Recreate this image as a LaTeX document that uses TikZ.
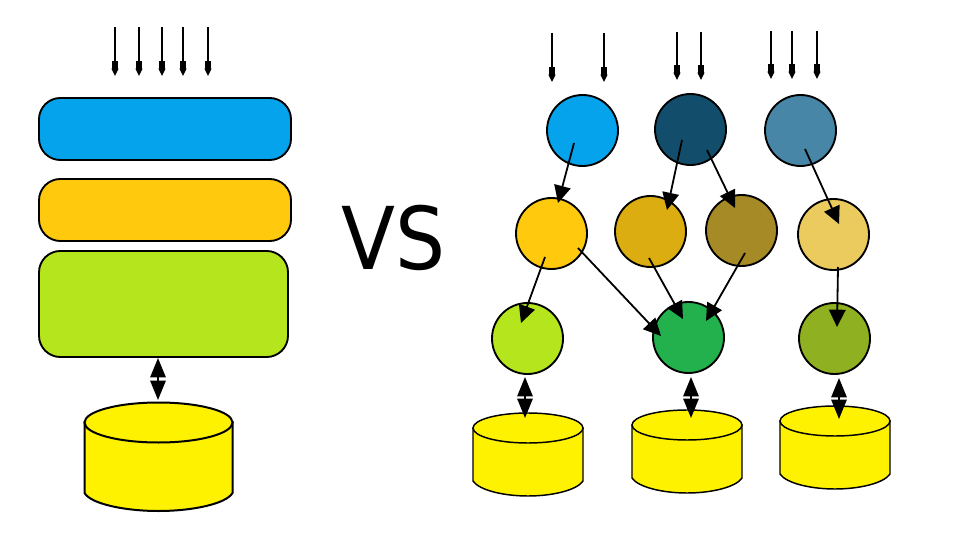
\documentclass[tikz,border=0pt]{standalone}
\usepackage{fontspec}
\setmainfont{DejaVu Sans}
\usetikzlibrary{arrows.meta,shapes.geometric}
\definecolor{cBlue}{HTML}{05A3EB}
\definecolor{cOrange}{HTML}{FFC90E}
\definecolor{cLime}{HTML}{B5E61D}
\definecolor{cDark}{HTML}{124E6B}
\definecolor{cMid}{HTML}{4786A6}
\definecolor{cGold}{HTML}{DBAD10}
\definecolor{cBronze}{HTML}{A68A25}
\definecolor{cSand}{HTML}{EBCB5E}
\definecolor{cGreen}{HTML}{22B14C}
\definecolor{cOlive}{HTML}{8FB021}
\definecolor{cYellow}{HTML}{FFF200}
\tikzset{
  layerbox/.style={draw=black,line width=1.4pt,rounded corners=16pt,inner sep=0pt,outer sep=0pt},
  service/.style={circle,draw=black,line width=1.4pt,minimum size=53.25pt,inner sep=0pt,outer sep=0pt},
  dbbody/.style={draw=black,line width=1.1pt,fill=cYellow},
  dbtop/.style={ellipse,draw=black,line width=1.1pt,fill=cYellow,inner sep=0pt,outer sep=0pt},
  inflow/.style={line width=1.2pt,-{Rectangle[length=5.5pt,width=5pt,sep=0pt]Triangle[length=5.5pt,width=5pt,sep=0pt]}},
  call/.style={line width=1.35pt,-{Triangle[length=13pt,width=12.5pt]}},
  dbio/.style={line width=1.35pt,{Triangle[length=14.5pt,width=11.5pt]}-{Triangle[length=14.5pt,width=11.5pt]}},
}
\begin{document}
\begin{tikzpicture}[x=0.75pt,y=-0.75pt]
\useasboundingbox (0,0) rectangle (955,541);
% left monolith
\node[layerbox,fill=cBlue,minimum width=189pt,minimum height=46.5pt] (uiLayer) at (165,129) {};
\node[layerbox,fill=cOrange,minimum width=189pt,minimum height=46.5pt] (logicLayer) at (165,210) {};
\node[layerbox,fill=cLime,minimum width=186.75pt,minimum height=79.5pt] (dataLayer) at (163.5,304) {};
% right services
\foreach \n/\c/\x/\y in {a1/cBlue/582.5/130.5,a2/cDark/690.5/129.5,a3/cMid/800.5/130.5,
  b1/cOrange/551.5/233.5,b2/cGold/650.5/231.5,b3/cBronze/741.5/230.5,b4/cSand/833.5/234.5,
  c1/cLime/527.5/338.5,c2/cGreen/688.5/337.5,c3/cOlive/834.5/338.5}
  \node[service,fill=\c] (\n) at (\x,\y) {};
% databases
\draw[dbbody,line width=1.5pt] (84.5,422) -- (84.5,493) .. controls (91,504) and (125,511) .. (158.5,511) .. controls (192,511) and (226,504) .. (232.5,493) -- (232.5,422) -- cycle;
\node[dbtop,line width=1.5pt,minimum width=111pt,minimum height=30pt] (dbL) at (158.5,422.5) {};
\foreach \n/\xa/\xb/\xm/\ty in {dbA/473/583/528/428,dbB/632/742/687/425,dbC/780/890/835/421}{
  \draw[dbbody] (\xa,\ty) -- (\xa,\ty+53) .. controls (\xa+6,\ty+62) and (\xm-25,\ty+68) .. (\xm,\ty+68) .. controls (\xm+25,\ty+68) and (\xb-6,\ty+62) .. (\xb,\ty+53) -- (\xb,\ty) -- cycle;
  \node[dbtop,minimum width=82.5pt,minimum height=22.5pt] (\n) at (\xm,\ty) {};
}
% VS
\node[font=\fontsize{65pt}{65pt}\selectfont,inner sep=0pt,anchor=base,xscale=0.91] (vs) at (393.5,270) {VS};
% inflow arrows
\foreach \i/\x/\ya/\yb in {1/115/27/76,2/139/27/76,3/162/27/76,4/183/27/76,5/208/27/76,
  6/552/33/82,7/604/33/82,8/677/32/80,9/701/32/80,10/771/31/79,11/792/31/79,12/817/31/79}{
  \coordinate (in\i) at (\x,\ya);
  \coordinate (inE\i) at (\x,\yb);
  \draw[inflow] (in\i) -- (inE\i);
}
% calls between services
\foreach \i/\xa/\ya/\xb/\yb in {1/574/143/558/203,2/682/140/667/210,3/707/150/735/208,
  4/805/149/839/224,5/545/257/521/323,6/578/248/661/336,7/649/258/683/319,
  8/745/253/706/321,9/838/267/837/327}{
  \coordinate (s\i) at (\xa,\ya);
  \coordinate (t\i) at (\xb,\yb);
  \draw[call] (s\i) -- (t\i);
}
% database links
\foreach \i/\x/\ya/\yb in {1/158/358/400,2/525/377/418,3/691/377/418,4/839/378/419}{
  \coordinate (p\i) at (\x,\ya);
  \coordinate (q\i) at (\x,\yb);
  \draw[dbio] (p\i) -- (q\i);
}
\end{tikzpicture}
\end{document}
